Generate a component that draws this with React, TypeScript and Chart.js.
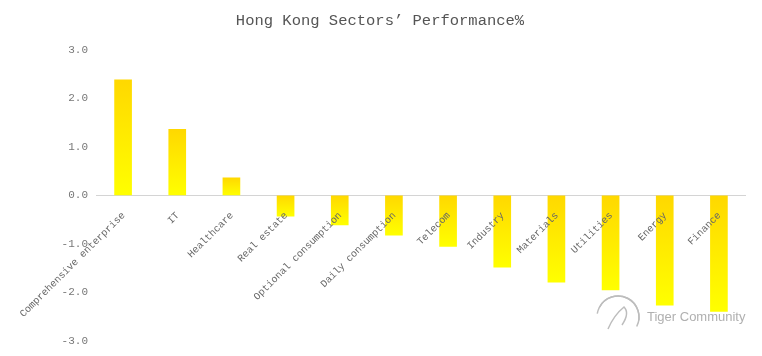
import React, { useEffect, useRef } from "react";
import { Chart, registerables } from "chart.js";

Chart.register(...registerables);

const categories: string[] = [
  "Comprehensive enterprise",
  "IT",
  "Healthcare",
  "Real estate",
  "Optional consumption",
  "Daily consumption",
  "Telecom",
  "Industry",
  "Materials",
  "Utilities",
  "Energy",
  "Finance",
];
const performance: number[] = [2.38, 1.36, 0.36, -0.43, -0.61, -0.82, -1.05, -1.48, -1.79, -1.95, -2.26, -2.39];
const yMin = -3;
const yMax = 3;
const yStep = 1;
const titleText = "Hong Kong Sectors’ Performance%";
const watermarkText = "Tiger Community";

const MONO = "'Liberation Mono', 'DejaVu Sans Mono', monospace";

const categoryLabelPlugin = {
  id: "categoryLabels",
  afterDatasetsDraw(chart: any) {
    const { ctx, scales } = chart;
    const xs = scales.x;
    const ys = scales.y;
    const y0 = ys.getPixelForValue(0);
    ctx.save();
    ctx.font = `10px ${MONO}`;
    ctx.fillStyle = "#666";
    ctx.textAlign = "right";
    ctx.textBaseline = "middle";
    categories.forEach((label, i) => {
      const x = xs.getPixelForValue(i);
      ctx.save();
      ctx.translate(x + 0.5, y0 + 18.5);
      ctx.rotate(-Math.PI / 4);
      ctx.fillText(label, 0, 0);
      ctx.restore();
    });
    ctx.restore();
  },
};

const watermarkPlugin = {
  id: "watermark",
  afterDraw(chart: any) {
    const { ctx, chartArea } = chart;
    const cx = chartArea.right - 128;
    const cy = chartArea.bottom - 24;
    ctx.save();
    ctx.strokeStyle = "#bdbdbd";
    ctx.lineWidth = 1.5;
    ctx.beginPath();
    ctx.arc(cx, cy, 21, Math.PI * 0.15, Math.PI * 1.05, true);
    ctx.stroke();
    ctx.beginPath();
    ctx.arc(cx, cy, 21, Math.PI * 1.15, Math.PI * 0.05 + Math.PI * 2, false);
    ctx.stroke();
    ctx.beginPath();
    ctx.moveTo(cx - 10, cy + 12);
    ctx.quadraticCurveTo(cx - 4, cy - 2, cx + 6, cy - 10);
    ctx.quadraticCurveTo(cx + 12, cy - 4, cx + 4, cy + 8);
    ctx.stroke();
    ctx.font = "13px 'Liberation Sans', Arial, sans-serif";
    ctx.fillStyle = "#b0b0b0";
    ctx.textAlign = "left";
    ctx.textBaseline = "middle";
    ctx.fillText(watermarkText, cx + 29, cy);
    ctx.restore();
  },
};

export default function App() {
  const canvasRef = useRef<HTMLCanvasElement | null>(null);

  useEffect(() => {
    if (!canvasRef.current) return;
    const chart = new Chart(canvasRef.current, {
      type: "bar",
      data: {
        labels: categories,
        datasets: [
          {
            data: performance,
            barThickness: 17,
            backgroundColor: (context: any) => {
              const chart = context.chart;
              const ys = chart.scales?.y;
              if (!ys || context.type !== "data") return "#FFE800";
              const v = context.parsed?.y ?? 0;
              const top = ys.getPixelForValue(Math.max(v, 0));
              const bottom = ys.getPixelForValue(Math.min(v, 0));
              if (!isFinite(top) || !isFinite(bottom) || top === bottom) return "#FFE800";
              const g = chart.ctx.createLinearGradient(0, top, 0, bottom);
              g.addColorStop(0, "#FFD800");
              g.addColorStop(1, "#FFFF00");
              return g;
            },
            borderWidth: 0,
          },
        ],
      },
      options: {
        animation: false,
        responsive: true,
        maintainAspectRatio: false,
        layout: { padding: { left: 14, right: 16, top: 0, bottom: 15 } },
        plugins: {
          legend: { display: false },
          tooltip: { enabled: false },
          title: {
            display: true,
            text: titleText,
            color: "#555",
            font: { family: MONO, size: 15.5, weight: "normal", lineHeight: 1.2 },
            padding: { top: 12, bottom: 19 },
          },
        },
        scales: {
          x: {
            display: false,
          },
          y: {
            min: yMin,
            max: yMax,
            afterFit: (scale: any) => {
              scale.width = 82;
            },
            ticks: {
              stepSize: yStep,
              padding: 8,
              color: "#777",
              font: { family: MONO, size: 11 },
              callback: (v: any) => Number(v).toFixed(1),
            },
            grid: {
              drawTicks: false,
              color: (ctx: any) => (ctx.tick && ctx.tick.value === 0 ? "#d4d4d4" : "rgba(0,0,0,0)"),
            },
            border: { display: false },
          },
        },
      },
      plugins: [categoryLabelPlugin, watermarkPlugin],
    });
    return () => chart.destroy();
  }, []);

  return (
    <div style={{ position: "absolute", left: 0, top: 0, width: 762, height: 356, background: "#fff" }}>
      <canvas ref={canvasRef} />
    </div>
  );
}
